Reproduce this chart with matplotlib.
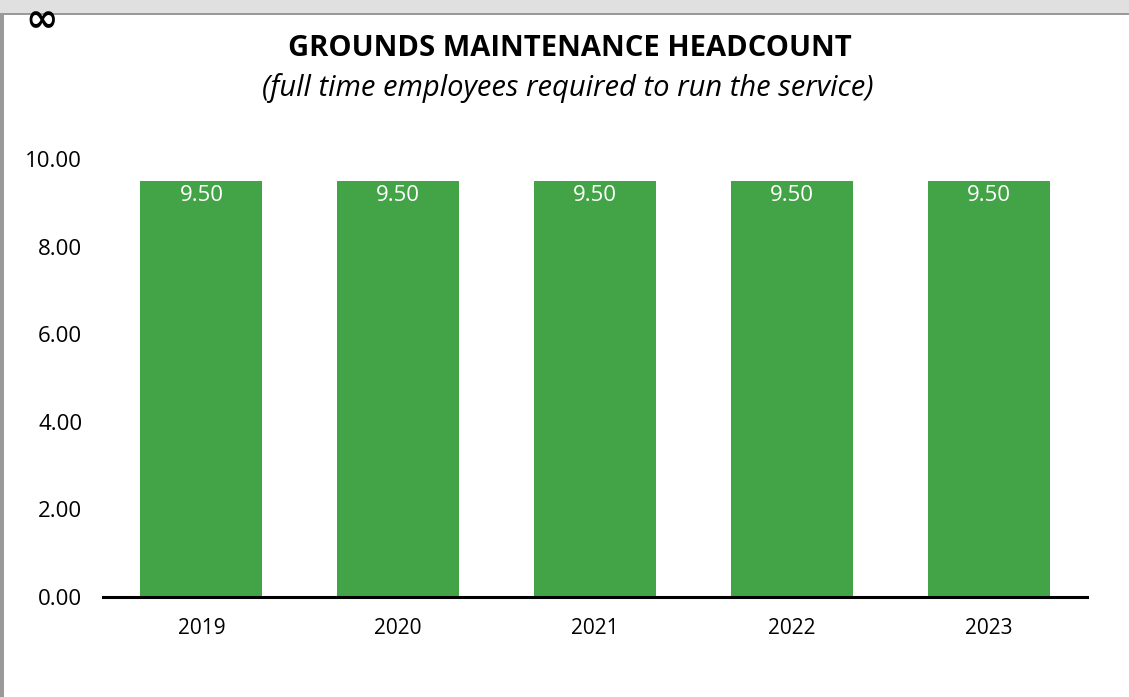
import matplotlib
matplotlib.use("Agg")
import matplotlib.pyplot as plt
from matplotlib.patches import Rectangle

years = ["2019", "2020", "2021", "2022", "2023"]
headcount = [9.50, 9.50, 9.50, 9.50, 9.50]
y_ticks = [0, 2, 4, 6, 8, 10]

plt.rcParams["font.family"] = ["Open Sans", "DejaVu Sans"]

fig = plt.figure(figsize=(11.29, 6.97), dpi=100)
fig.patch.set_facecolor("white")

# window chrome: grey strip on top, dark edge on the left
fig.add_artist(Rectangle((0, 1 - 13 / 697), 1, 13 / 697, transform=fig.transFigure,
                         facecolor="#e0e0e0", edgecolor="none"))
fig.add_artist(Rectangle((0, 1 - 15 / 697), 1, 2 / 697, transform=fig.transFigure,
                         facecolor="#9a9a9a", edgecolor="none"))
fig.add_artist(Rectangle((0, 0), 4 / 1129, 1 - 13 / 697, transform=fig.transFigure,
                         facecolor="#9a9a9a", edgecolor="none"))
fig.text(42 / 1129, 1 - 1 / 697, "\u221e", fontsize=28, fontweight="bold",
         ha="center", va="top", family="DejaVu Sans")

ax = fig.add_axes([103 / 1129, 1 - 597 / 697, 984 / 1129, 438 / 697])
x = range(len(years))
bars = ax.bar(x, headcount, width=0.62, color="#43a347", zorder=2)
for rect, val in zip(bars, headcount):
    ax.text(rect.get_x() + rect.get_width() / 2, val - 0.34, f"{val:.2f}",
            ha="center", va="center", color="white", fontsize=16)

ax.set_xlim(-0.5, len(years) - 0.5)
ax.set_ylim(0, 10)
ax.set_xticks(list(x))
ax.set_xticklabels(years, fontsize=15)
ax.set_yticks(y_ticks)
ax.set_yticklabels([f"{v:.2f}" for v in y_ticks], fontsize=16)
ax.tick_params(axis="both", length=0)
ax.tick_params(axis="y", pad=15)
ax.tick_params(axis="x", pad=15)
for side in ["top", "right", "left"]:
    ax.spines[side].set_visible(False)
ax.spines["bottom"].set_linewidth(2.2)
ax.spines["bottom"].set_color("black")

fig.text(570 / 1129, 1 - 49 / 697, "GROUNDS MAINTENANCE HEADCOUNT",
         ha="center", va="center", fontsize=21, fontweight="bold")
fig.text(568 / 1129, 1 - 88 / 697, "(full time employees required to run the service)",
         ha="center", va="center", fontsize=21, style="italic")

fig.savefig("out.png", dpi=100)
